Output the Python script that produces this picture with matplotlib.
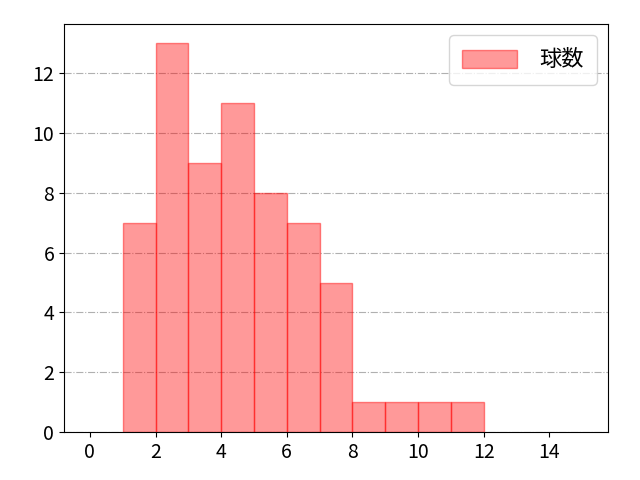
import numpy as np
import matplotlib.pyplot as plt

plt.rcParams['font.family'] = ['Noto Sans CJK JP', 'DejaVu Sans']

# 球数のヒストグラム
bin_edges = [1, 2, 3, 4, 5, 6, 7, 8, 9, 10, 11, 12]
counts = [7, 13, 9, 11, 8, 7, 5, 1, 1, 1, 1]
label = '球数'

fig = plt.figure(figsize=(6.4, 4.8), dpi=100)
ax = fig.add_axes([0.1, 0.1, 0.85, 0.85])

lefts = np.array(bin_edges[:-1])
widths = np.diff(bin_edges)
ax.bar(lefts, counts, width=widths, align='edge', color=(1, 0, 0, 0.4),
       edgecolor=(1, 0, 0, 0.45), linewidth=1, label=label)

ax.set_xlim(-0.79, 15.79)
ax.set_ylim(0, 13.65)
ax.set_xticks(range(0, 16, 2))
ax.set_yticks(range(0, 13, 2))
ax.tick_params(labelsize=14)
ax.grid(axis='y', linestyle='-.', color='#b0b0b0', linewidth=0.8)
ax.set_axisbelow(True)

ax.legend(loc='upper right', fontsize=16, handlelength=2.45, handletextpad=1.0,
          handleheight=0.9, borderpad=0.6)

fig.savefig('out.png', dpi=100)
